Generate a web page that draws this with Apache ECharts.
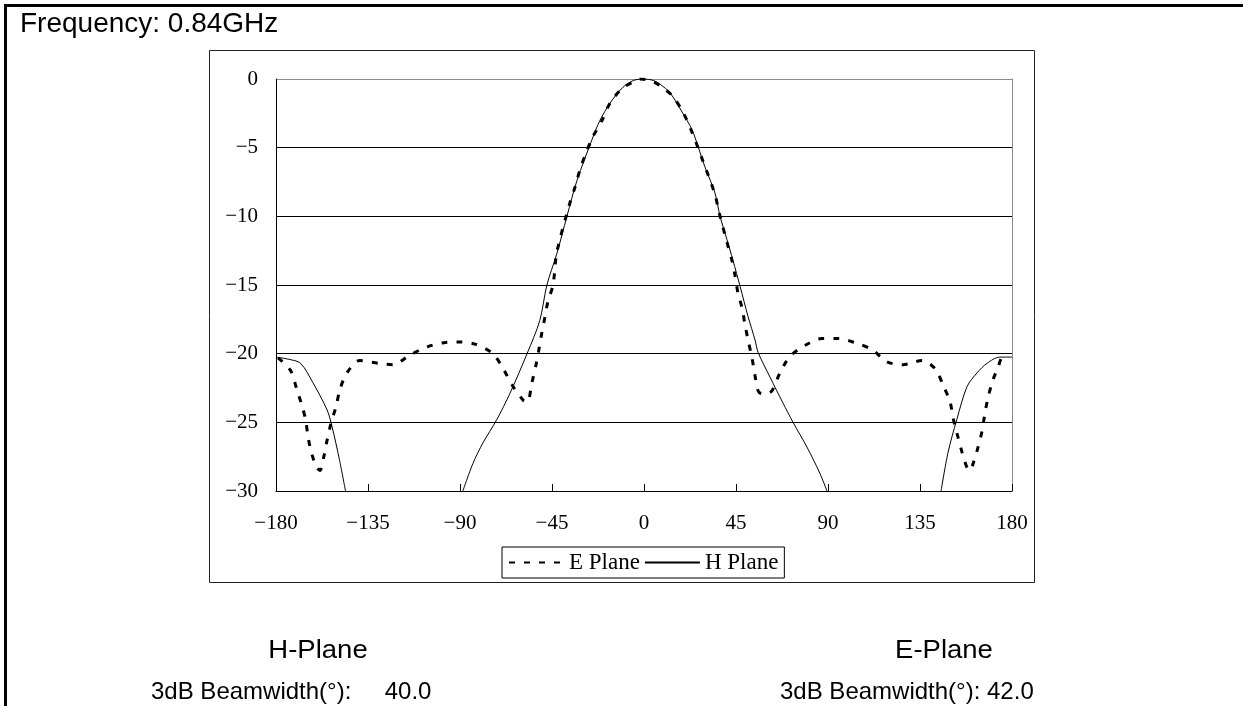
<!DOCTYPE html>
<html>
<head>
<meta charset="utf-8">
<script src="https://cdn.jsdelivr.net/npm/echarts@6/dist/echarts.min.js"></script>
<style>
html,body{margin:0;padding:0;background:#fff;}
#chart{width:1243px;height:706px;}
</style>
</head>
<body>
<div id="chart"></div>
<script>
// ---- data ----
const titleText = 'Frequency: 0.84GHz';
const xTicks = [-180, -135, -90, -45, 0, 45, 90, 135, 180];
const yTicks = [0, -5, -10, -15, -20, -25, -30];
const seriesNames = ['E Plane', 'H Plane'];

const eAngles = [-179, -173, -170, -167.5, -165.5, -164.4, -162.5, -160, -158.5, -156.6, -155, -153, -150.7, -148.7, -145.3, -139, -130, -122.8, -114.5, -106, -98, -91, -82.7, -73.9, -68.5, -64, -59, -57, -54.8, -52.8, -51.4, -50, -48.4, -47, -44.5, -42.6, -36.2, -33.8, -31.3, -28.4, -25, -20.5, -16.6, -10.8, -5, -1.5, 4.5, 8, 13.7, 19, 23, 28.9, 34.7, 36.7, 40.6, 43, 44.5, 46, 48, 49.4, 50.9, 52.8, 54.3, 55.8, 57.5, 60, 62.6, 66.5, 71.4, 78.8, 87, 95, 103.2, 111.5, 118.9, 126.7, 136, 142.4, 146.3, 149.7, 151.2, 153.1, 155.6, 158, 159.5, 161, 163.4, 165.4, 166.8, 168.3, 170.7, 173.2, 175, 178];
const eValues = [-20.3, -21.2, -22.5, -23.7, -24.8, -26, -27.3, -28.3, -28.5, -27.5, -26.3, -25, -23.9, -22.6, -21.4, -20.5, -20.7, -20.8, -20.1, -19.5, -19.2, -19.15, -19.3, -20, -21.2, -22.4, -23.4, -23.5, -22.1, -20.8, -19.7, -18.5, -17.3, -16.2, -15, -12.6, -9.0, -7.9, -6.6, -5.4, -4.2, -3.0, -1.75, -0.7, -0.2, 0, -0.2, -0.5, -1.2, -2.4, -3.7, -6.0, -8.4, -9.7, -11.9, -13.2, -14.3, -15.6, -16.7, -17.9, -19, -20.3, -21.6, -22.7, -22.9, -22.9, -22.7, -21.4, -20.2, -19.4, -18.9, -18.9, -19.2, -19.7, -20.6, -20.8, -20.5, -21.1, -22.3, -23.5, -24.7, -25.8, -27.2, -28.3, -28.5, -28, -26.8, -25.6, -24.3, -23.2, -21.9, -21, -20.3, -20.2];

const hAngles = [-180, -174, -168, -162, -155, -152.6, -149, -146, -118, -88.6, -83.7, -78.8, -72, -65.6, -57.2, -51, -47.5, -42.6, -37.7, -32.8, -25.4, -21.5, -16.6, -10.3, -5, 0, 4.5, 8, 12.7, 18.6, 23.5, 26.4, 29.8, 34.7, 37.2, 40.6, 43.5, 47, 50.9, 54.3, 55.8, 61.6, 68, 72.9, 79.7, 86, 89.5, 118, 145.3, 148.7, 153, 158, 162.9, 167.8, 174, 180];
const hValues = [-20.25, -20.4, -20.7, -22.1, -24.1, -25.3, -27.7, -30, null, -30, -28, -26.5, -24.8, -22.9, -20, -17.6, -15, -12.7, -10, -7.4, -4.4, -3.0, -1.75, -0.6, -0.1, 0, -0.1, -0.4, -1.0, -2.4, -3.7, -4.9, -6.4, -8.3, -10, -11.7, -13.2, -15.1, -17.3, -19, -19.9, -21.7, -23.6, -25, -26.8, -28.7, -30, null, -30, -27.2, -24.8, -22.4, -21.4, -20.7, -20.25, -20.25];

const hLabel = 'H-Plane';
const eLabel = 'E-Plane';
const hBeam = '3dB Beamwidth(°):     40.0';
const eBeam = '3dB Beamwidth(°): 42.0';

// ---- build ----
const pairs = (xs, ys) => xs.map((x, i) => [x, ys[i] === null ? '-' : ys[i]]);
const minus = v => String(v).replace('-', '\u2212');
const serif = '"Liberation Serif", "Times New Roman", serif';
const sans = '"Liberation Sans", Arial, sans-serif';

const chart = echarts.init(document.getElementById('chart'), null, {renderer: 'canvas'});
chart.setOption({
  animation: false,
  backgroundColor: '#fff',
  title: {
    text: titleText, left: 20, top: 10, padding: 0,
    textStyle: {fontFamily: sans, fontSize: 28, fontWeight: 'normal', color: '#000'}
  },
  grid: {left: 276, right: 231, top: 79, bottom: 215, containLabel: false},
  legend: {
    data: seriesNames,
    left: 502, top: 547,
    padding: [4, 6, 4, 6],
    itemWidth: 55, itemHeight: 14, itemGap: 4,
    borderColor: '#000', borderWidth: 1,
    backgroundColor: '#fff',
    itemStyle: {opacity: 0},
    formatter: name => '{t|' + name + '}',
    textStyle: {
      fontFamily: serif, fontSize: 23, color: '#000',
      rich: {t: {fontFamily: serif, fontSize: 23, color: '#000', width: 82}}
    },
    selectedMode: false
  },
  xAxis: {
    type: 'value', min: -180, max: 180, interval: 45,
    axisLine: {show: true, onZero: false, lineStyle: {color: '#000', width: 1}},
    axisTick: {show: true, inside: true, length: 7, lineStyle: {color: '#000'}},
    axisLabel: {fontFamily: serif, fontSize: 21, color: '#000', margin: 22, formatter: minus},
    splitLine: {show: false}
  },
  yAxis: [{
    type: 'value', min: -30, max: 0, interval: 5,
    axisLine: {show: true, onZero: false, lineStyle: {color: '#000', width: 1}},
    axisTick: {show: false},
    axisLabel: {fontFamily: serif, fontSize: 21, color: '#000', margin: 18, formatter: minus},
    splitLine: {show: true, lineStyle: {color: ['#000', '#000', '#000', '#000', '#000', '#000', '#8a8a8a'], width: 1}}
  }, {
    type: 'value', min: -30, max: 0, interval: 5, position: 'right',
    axisLine: {show: true, onZero: false, lineStyle: {color: '#8a8a8a', width: 1}},
    axisTick: {show: false}, axisLabel: {show: false}, splitLine: {show: false}
  }],
  series: [{
    name: seriesNames[0], type: 'line', yAxisIndex: 0,
    data: pairs(eAngles, eValues),
    symbol: 'none', smooth: 0.3, clip: true,
    lineStyle: {color: '#000', width: 3, type: [6, 9]},
    itemStyle: {color: '#000'}
  }, {
    name: seriesNames[1], type: 'line', yAxisIndex: 0,
    data: pairs(hAngles, hValues),
    symbol: 'none', smooth: 0.3, clip: true, connectNulls: false,
    lineStyle: {color: '#000', width: 1, type: 'solid'},
    itemStyle: {color: '#000'}
  }],
  graphic: [
    {type: 'line', silent: true, shape: {x1: 5.5, y1: 4, x2: 5.5, y2: 706}, style: {stroke: '#000', lineWidth: 3}},
    {type: 'line', silent: true, shape: {x1: 4, y1: 5.5, x2: 1243, y2: 5.5}, style: {stroke: '#000', lineWidth: 3}},
    {type: 'rect', silent: true, z: -1, shape: {x: 209.5, y: 50.5, width: 825, height: 532}, style: {fill: 'none', stroke: '#222', lineWidth: 1}},
    {type: 'text', silent: true, x: 318, y: 651, scaleX: 1.1, originX: 0, originY: 0, style: {text: hLabel, font: '25px ' + sans, fill: '#000', textAlign: 'center', textVerticalAlign: 'middle'}},
    {type: 'text', silent: true, x: 944, y: 651, scaleX: 1.1, originX: 0, originY: 0, style: {text: eLabel, font: '25px ' + sans, fill: '#000', textAlign: 'center', textVerticalAlign: 'middle'}},
    {type: 'text', silent: true, x: 151, y: 692, style: {text: hBeam, font: '24px ' + sans, fill: '#000', textAlign: 'left', textVerticalAlign: 'middle'}},
    {type: 'text', silent: true, x: 780, y: 692, style: {text: eBeam, font: '24px ' + sans, fill: '#000', textAlign: 'left', textVerticalAlign: 'middle'}}
  ]
});
</script>
</body>
</html>
